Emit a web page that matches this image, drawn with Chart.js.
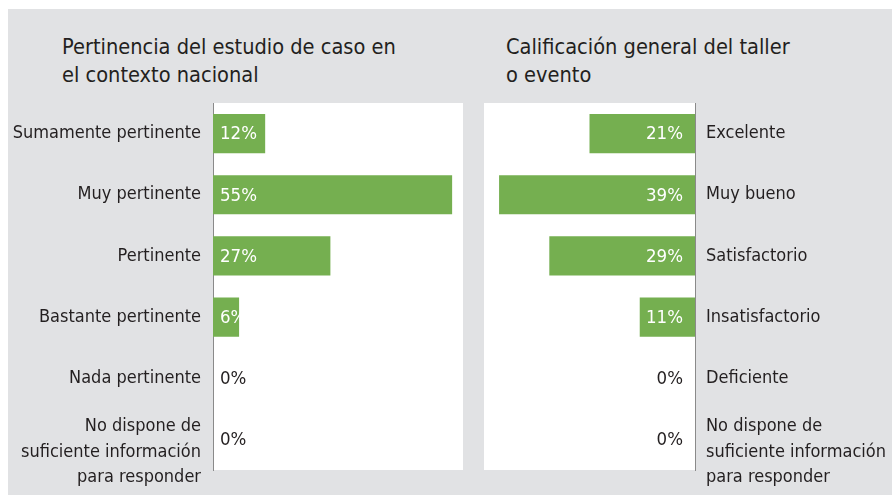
<!DOCTYPE html>
<html>
<head>
<meta charset="utf-8">
<script src="https://cdn.jsdelivr.net/npm/chart.js@4"></script>
<style>
  body { margin: 0; background: #fff; }
  #fondo { position: absolute; left: 8px; top: 9px; width: 884px; height: 486px; background: #e1e2e4; }
  .titulo { position: absolute; top: 33px; font-family: "Liberation Sans Narrow", "DejaVu Sans Condensed", sans-serif; font-size: 21.6px; line-height: 28px; color: #231f20; }
  canvas { position: absolute; }
</style>
</head>
<body>
<div id="fondo"></div>
<div class="titulo" style="left:62px">Pertinencia del estudio de caso en<br>el contexto nacional</div>
<div class="titulo" style="left:506px">Calificación general del taller<br>o evento</div>
<canvas id="chartIzq" style="left:0px;top:95px" width="470" height="400"></canvas>
<canvas id="chartDer" style="left:474px;top:95px" width="418" height="400"></canvas>
<script>
// datos
// la primera linea vacia baja un poco la etiqueta de tres lineas, como en el original
const catsPertinencia = ['Sumamente pertinente', 'Muy pertinente', 'Pertinente', 'Bastante pertinente', 'Nada pertinente', ['', 'No dispone de', 'suficiente información', 'para responder']];
const valsPertinencia = [12, 55, 27, 6, 0, 0];
const catsCalificacion = ['Excelente', 'Muy bueno', 'Satisfactorio', 'Insatisfactorio', 'Deficiente', ['', 'No dispone de', 'suficiente información', 'para responder']];
const valsCalificacion = [21, 39, 29, 11, 0, 0];

const FUENTE = '"Liberation Sans Narrow", "DejaVu Sans Condensed", sans-serif';
const VERDE = '#75af50';
const TEXTO = '#231f20';

// fondo blanco del area del grafico
const fondoBlanco = {
    id: 'fondoBlanco',
    beforeDraw(chart) {
        const a = chart.chartArea;
        chart.ctx.save();
        chart.ctx.fillStyle = '#fff';
        chart.ctx.fillRect(a.left, a.top, a.right - a.left, a.bottom - a.top);
        chart.ctx.restore();
    }
};

// etiquetas de porcentaje
const etiquetas = {
    id: 'etiquetas',
    afterDatasetsDraw(chart, args, opts) {
        const ctx = chart.ctx;
        const meta = chart.getDatasetMeta(0);
        const vals = chart.data.datasets[0].data;
        ctx.save();
        ctx.font = '18.5px ' + FUENTE;
        ctx.textBaseline = 'middle';
        meta.data.forEach((bar, i) => {
            ctx.fillStyle = vals[i] > 0 ? '#fff' : TEXTO;
            if (opts.derecha) {
                ctx.textAlign = 'right';
                ctx.fillText(vals[i] + '%', bar.base - 12, bar.y + 1);
            } else {
                ctx.textAlign = 'left';
                ctx.fillText(vals[i] + '%', bar.base + 7, bar.y + 1);
            }
        });
        ctx.restore();
    }
};

function crearGrafico(id, cats, vals, derecha, maximo) {
    return new Chart(document.getElementById(id), {
        type: 'bar',
        data: {
            labels: cats,
            datasets: [{
                data: vals,
                backgroundColor: VERDE,
                barPercentage: 0.64,
                categoryPercentage: 1
            }]
        },
        options: {
            indexAxis: 'y',
            responsive: false,
            animation: false,
            layout: { padding: derecha ? { top: 8, bottom: 25, left: 10, right: 0 } : { top: 8, bottom: 25, left: 0, right: 7 } },
            plugins: {
                legend: { display: false },
                tooltip: { enabled: false },
                etiquetas: { derecha: derecha }
            },
            scales: {
                x: { display: false, min: 0, max: maximo, reverse: derecha },
                y: {
                    position: derecha ? 'right' : 'left',
                    grid: { display: false, drawTicks: false },
                    border: { display: true, color: '#8a8a8a', width: 1 },
                    ticks: {
                        autoSkip: false,
                        color: TEXTO,
                        padding: derecha ? 11 : 12,
                        font: { family: FUENTE, size: 18, lineHeight: 1.4 }
                    },
                    afterFit(axis) {
                        axis.width = derecha ? 197 : 213;
                        axis.paddingTop = 0;
                        axis.paddingBottom = 0;
                    }
                }
            }
        },
        plugins: [fondoBlanco, etiquetas]
    });
}

crearGrafico('chartIzq', catsPertinencia, valsPertinencia, false, 57.5);
crearGrafico('chartDer', catsCalificacion, valsCalificacion, true, 42);
</script>
</body>
</html>
